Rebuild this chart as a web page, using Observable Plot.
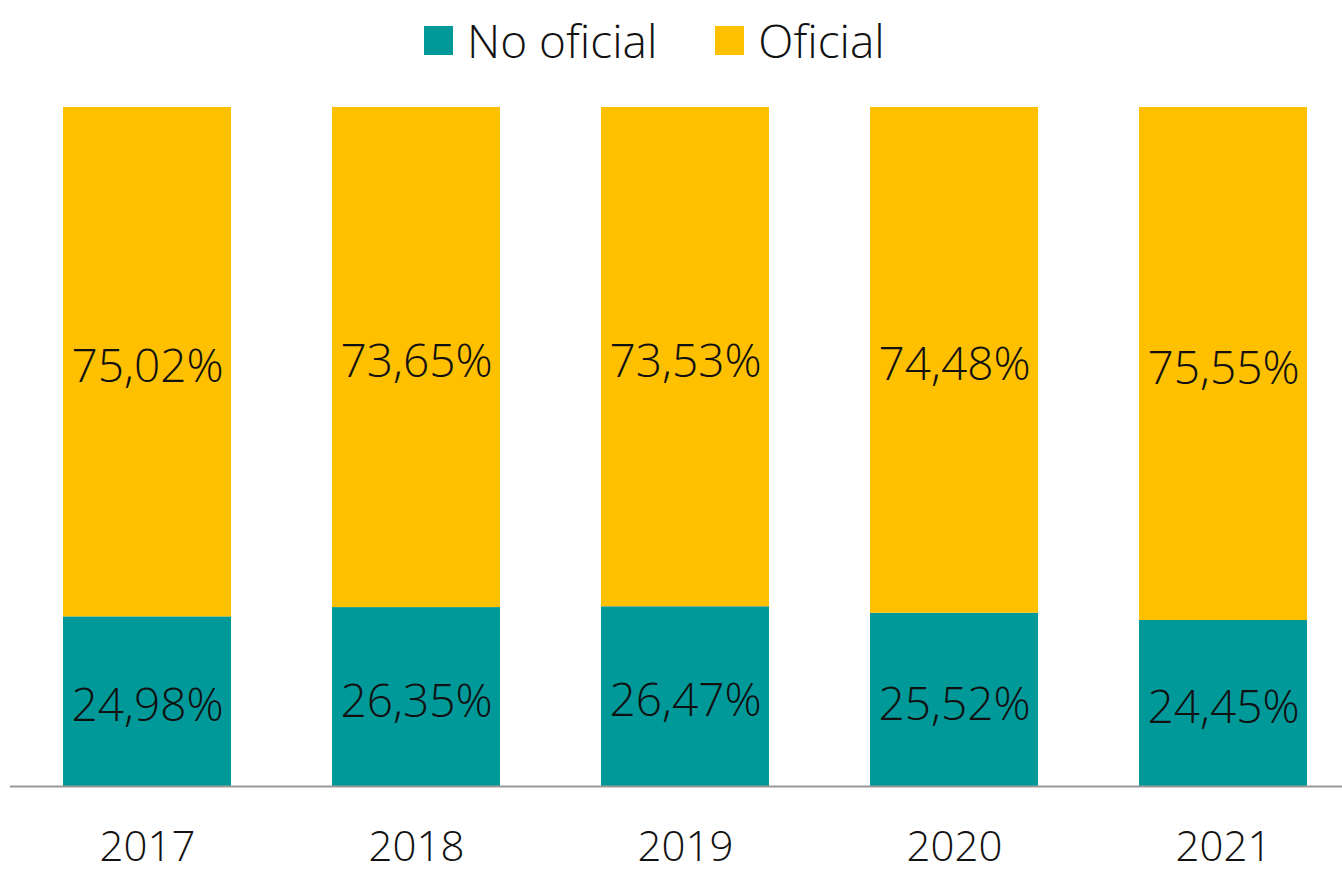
<!DOCTYPE html>
<html>
<head>
<meta charset="utf-8">
<script src="https://cdn.jsdelivr.net/npm/d3@7"></script>
<script src="https://cdn.jsdelivr.net/npm/@observablehq/plot@0.6"></script>
<style>
  html, body { margin: 0; padding: 0; background: #fff; }
  body { width: 1342px; height: 876px; overflow: hidden; font-family: "Open Sans", "Noto Sans", sans-serif; }
  #legend { height: 80px; display: flex; align-items: center; padding-left: 424px; box-sizing: border-box; font-size: 46px; font-weight: 300; color: #111; }
  .item { display: flex; align-items: center; }
  .sw { width: 29px; height: 29px; margin-right: 14px; }
  .item + .item { margin-left: 58px; }
  #chart svg { display: block; }
</style>
</head>
<body>
<div id="legend"></div>
<div id="chart"></div>
<script>
const years = ["2017", "2018", "2019", "2020", "2021"];
const series = ["No oficial", "Oficial"];
const noOficial = [24.98, 26.35, 26.47, 25.52, 24.45];
const oficial = [75.02, 73.65, 73.53, 74.48, 75.55];
const colors = ["#009999", "#FFC000"];

const data = [];
years.forEach((y, i) => data.push({year: y, tipo: series[0], value: noOficial[i]}));
years.forEach((y, i) => data.push({year: y, tipo: series[1], value: oficial[i]}));

const fmt = v => v.toFixed(2).replace(".", ",") + "%";

const legend = document.getElementById("legend");
series.forEach((s, i) => {
  const it = document.createElement("div");
  it.className = "item";
  it.innerHTML = `<div class="sw" style="background:${colors[i]}"></div><span>${s}</span>`;
  legend.appendChild(it);
});

const chart = Plot.plot({
  width: 1342,
  height: 796,
  marginTop: 27,
  marginBottom: 90,
  marginLeft: 10,
  marginRight: 0,
  style: {fontFamily: "'Open Sans', 'Noto Sans', sans-serif", fontWeight: 300, color: "#111", background: "#fff"},
  x: {domain: years, range: [35.1, 1333.9], paddingInner: 0.376, paddingOuter: 0.1, label: null},
  y: {domain: [0, 100], axis: null},
  color: {domain: series, range: colors},
  marks: [
    Plot.barY(data, {x: "year", y: "value", fill: "tipo", order: series}),
    Plot.text(data, Plot.stackY({x: "year", y: "value", z: "tipo", order: series, text: d => fmt(d.value), fontSize: 46, dy: 5, fill: "#111"})),
    Plot.ruleY([0], {stroke: "#999", strokeWidth: 2}),
    Plot.axisX({tickSize: 0, tickPadding: 45, fontSize: 42, label: null})
  ]
});
document.getElementById("chart").appendChild(chart);
</script>
</body>
</html>
